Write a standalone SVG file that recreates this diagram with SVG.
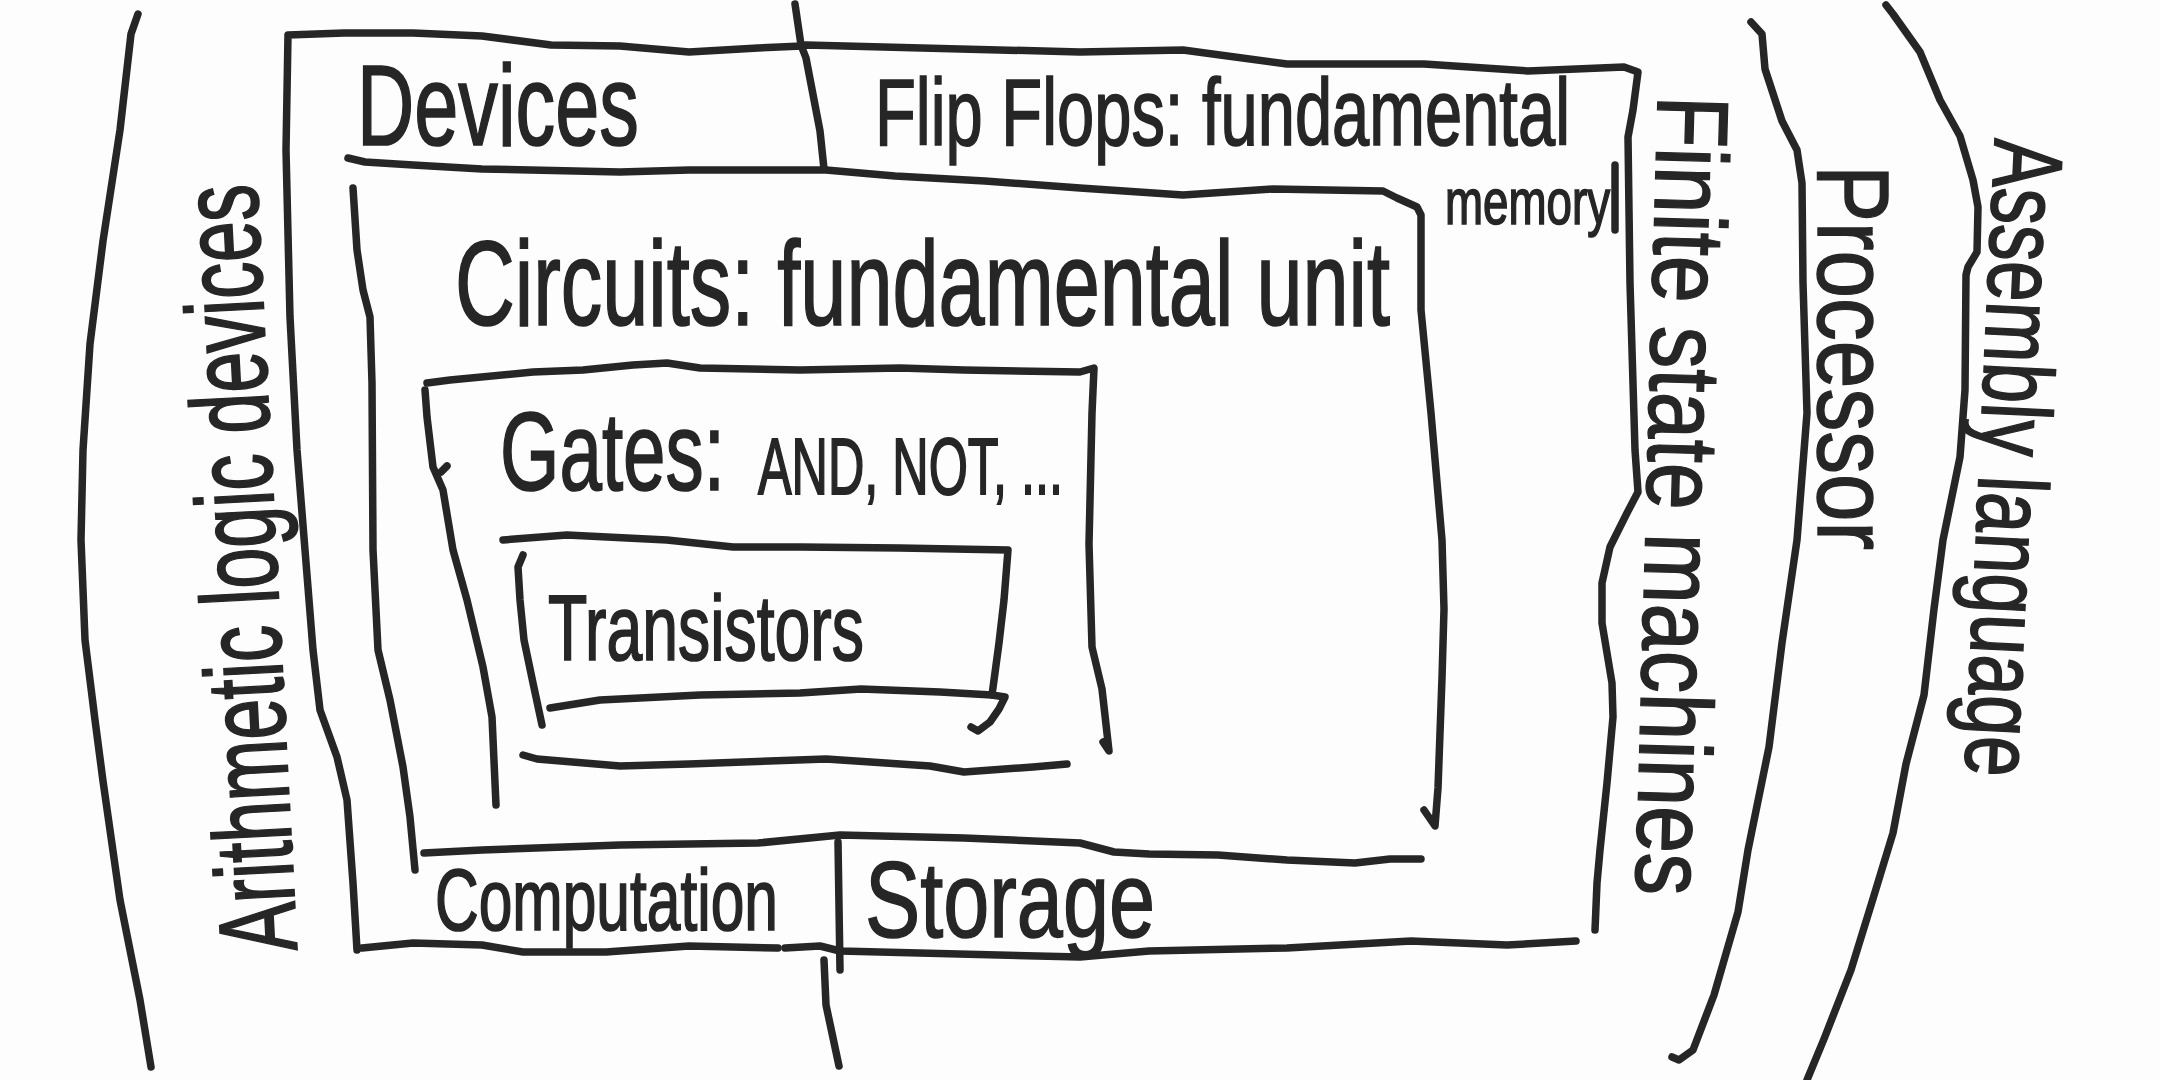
<svg xmlns="http://www.w3.org/2000/svg" width="2160" height="1080" viewBox="0 0 2160 1080">
<style>
.ln{fill:none;stroke:#262626;stroke-width:7.5;stroke-linecap:round;stroke-linejoin:round}
.t{font-family:"Liberation Sans",Arial,sans-serif;fill:#262626;stroke:#262626;stroke-width:1.2}
</style>
<rect width="2160" height="1080" fill="#fdfdfd"/>

<g id="arithmetic-logic-devices">
<polyline class="ln" points="138,14 131,34 120,130 103,241 90,344 83,450 81,540 85,640 95,720 103,781 120,900 140,1000 151,1067"/>
<text class="t" font-size="73.5" textLength="768" lengthAdjust="spacingAndGlyphs" transform="translate(297,950) rotate(-93) scale(1,1.5)">Arithmetic logic devices</text>
</g>

<g id="devices">
<polyline class="ln" points="357,950 353,883 347,800 337,757 320,710 313,650 305,550 297,450 290,317 286,150 288,35 344,33 413,33 482,36 551,45 620,46 689,52 758,48 802,46 806,45 1080,52 1183,50 1287,64 1424,64 1528,71 1624,67 1638,72 1633,110 1628,137 1630,283 1635,450 1638,492 1627,513 1610,547 1602,583 1602,623 1612,683 1613,717 1607,783 1600,850 1597,883 1595,930"/>
<polyline class="ln" points="362,948 413,943 482,945 523,952 606,952 689,946 778,948"/>
<polyline class="ln" points="785,948 820,946 840,951 1080,957 1149,951 1287,948 1411,941 1507,945 1576,941"/>
<text class="t" font-size="79" textLength="282" lengthAdjust="spacingAndGlyphs" transform="translate(357,145) scale(1,1.45)">Devices</text>
</g>

<g id="flip-flops">
<text class="t" font-size="67" textLength="695" lengthAdjust="spacingAndGlyphs" transform="translate(875,145) scale(1,1.4)">Flip Flops: fundamental</text>
<text class="t" font-size="45.7" textLength="165" lengthAdjust="spacingAndGlyphs" transform="translate(1445,224) scale(1,1.4)">memory</text>
<line class="ln" x1="1615" y1="165" x2="1615" y2="230"/>
</g>

<g id="circuits">
<polyline class="ln" points="348,158 365,162 413,165 482,169 620,172 689,170 826,170 895,176 985,181 1080,188 1183,195 1273,189 1383,191 1397,198 1417,207 1421,215 1421,310 1431,413 1442,540 1444,609 1442,678 1438,788 1435,826 1424,810"/>
<polyline class="ln" points="353,188 357,250 363,290 370,317 372,383 373,550 378,650 390,700 403,767 410,817 415,870"/>
<polyline class="ln" points="424,853 482,850 620,845 758,843 840,835 964,838 1080,843 1114,852 1149,854 1218,855 1287,860 1355,863 1390,859 1421,859"/>
<text class="t" font-size="82.9" textLength="935" lengthAdjust="spacingAndGlyphs" transform="translate(455,325) scale(1,1.45)">Circuits: fundamental unit</text>
</g>

<g id="gates">
<polyline class="ln" points="427,383 450,380 533,372 583,370 633,365 667,363 700,368 800,370 900,368 964,370 1080,372 1094,368 1092,413 1089,544 1092,647 1102,689 1109,751 1103,742"/>
<polyline class="ln" points="425,390 427,417 433,467 443,490 453,550 467,600 483,667 492,717 496,805"/>
<polyline class="ln" points="447,466 441,472"/>
<polyline class="ln" points="523,755 537,759 620,766 689,764 826,759 930,766 964,772 1033,767 1067,764"/>
<text class="t" font-size="76.4" textLength="225" lengthAdjust="spacingAndGlyphs" transform="translate(500,490) scale(1,1.45)">Gates:</text>
<text class="t" font-size="49.5" textLength="305" lengthAdjust="spacingAndGlyphs" transform="translate(758,494) scale(1,1.6)">AND, NOT, ...</text>
</g>

<g id="transistors">
<polyline class="ln" points="503,540 567,535 667,540 733,547 800,547 900,548 1008,550 1004,600 999,643 992,695 1005,697 999,709 990,722 978,731 971,727"/>
<polyline class="ln" points="523,555 518,567 520,600 524,640 533,683 542,725"/>
<polyline class="ln" points="550,708 600,700 700,695 800,693 861,689 940,692 992,695"/>
<text class="t" font-size="63.9" textLength="316" lengthAdjust="spacingAndGlyphs" transform="translate(548,660) scale(1,1.45)">Transistors</text>
</g>

<g id="computation">
<text class="t" font-size="60.5" textLength="343" lengthAdjust="spacingAndGlyphs" transform="translate(435,930) scale(1,1.45)">Computation</text>
</g>

<g id="storage">
<text class="t" font-size="82.8" textLength="290" lengthAdjust="spacingAndGlyphs" transform="translate(865,937) scale(1,1.3)">Storage</text>
</g>

<g id="finite-state-machines">
<text class="t" font-size="84.7" textLength="800" lengthAdjust="spacingAndGlyphs" transform="translate(1658,95) rotate(91.6) scale(1,1.2)">Finite state machines</text>
</g>

<g id="processor">
<polyline class="ln" points="1751,22 1762,34 1765,69 1782,121 1797,150 1802,183 1803,283 1807,413 1797,540 1782,643 1769,747 1748,850 1738,912 1714,995 1693,1050 1679,1060 1672,1057"/>
<text class="t" font-size="85.5" textLength="385" lengthAdjust="spacingAndGlyphs" transform="translate(1818,165) rotate(90) scale(1,1.2)">Processor</text>
</g>

<g id="assembly-language">
<polyline class="ln" points="1886,5 1893,14 1920,52 1940,100 1960,136 1973,180 1978,207 1977,252 1968,267 1966,275 1965,390 1960,457 1943,540 1934,609 1924,695 1906,764 1893,833 1872,902 1851,970 1824,1039 1807,1080"/>
<text class="t" font-size="73" textLength="638" lengthAdjust="spacingAndGlyphs" transform="translate(1995,138) rotate(92.7) scale(1,1.35)">Assembly language</text>
</g>

<g id="connectors">
<polyline class="ln" points="795,4 801,45 806,58 820,131 824,169"/>
<polyline class="ln" points="838,842 840,970"/>
<polyline class="ln" points="824,960 826,1005 839,1066"/>
</g>
</svg>
